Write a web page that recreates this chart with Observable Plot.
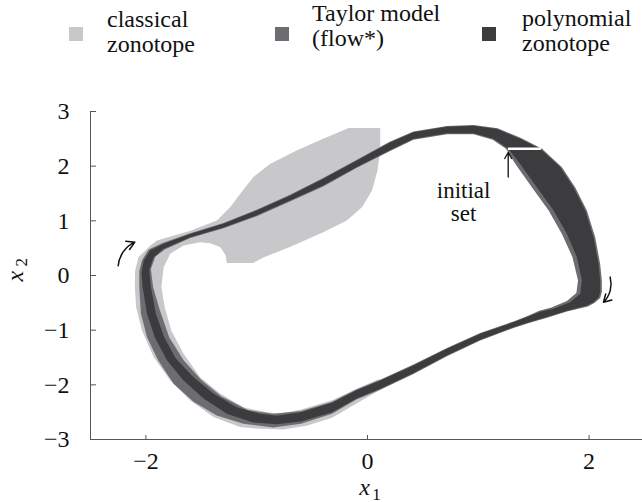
<!DOCTYPE html>
<html><head><meta charset="utf-8">
<script src="https://cdn.jsdelivr.net/npm/d3@7"></script>
<script src="https://cdn.jsdelivr.net/npm/@observablehq/plot@0.6"></script>
<style>
body{margin:0;background:#fff;}
#wrap{position:relative;width:642px;height:502px;font-family:"Liberation Serif","DejaVu Serif","Times New Roman",serif;color:#111;}
#legend{position:relative;height:75px;width:642px;}
.sw{position:absolute;width:14px;height:14px;top:27px}
.lt{position:absolute;font-size:24px;line-height:24.5px;white-space:nowrap}
</style></head><body>
<div id="wrap"><div id="legend"></div><div id="chart"></div></div>
<script>
const xTicks = [-2, 0, 2];
const yTicks = [-3, -2, -1, 0, 1, 2, 3];
const xDomain = [-2.5, 2.5];
const yDomain = [-3, 3];
const legendLabels = [["classical", "zonotope"], ["Taylor model", "(flow*)"], ["polynomial", "zonotope"]];
const setColors = ["#c8c8ca", "#6d6d71", "#3c3c3e"];

// classical zonotope (outline)
const classicalOutline = [[-0.17,2.70],[0.115,2.70],[0.115,2.29],[0.09,1.92],[0.04,1.55],[-0.05,1.25],[-0.19,1.00],[-0.40,0.79],[-0.70,0.52],[-0.94,0.33],[-1.03,0.23],[-1.27,0.23],[-1.28,0.37],[-1.33,0.52],[-1.42,0.59],[-1.51,0.61],[-1.66,0.55],[-1.78,0.40],[-1.84,0.15],[-1.86,-0.21],[-1.83,-0.58],[-1.77,-1.01],[-1.66,-1.43],[-1.51,-1.86],[-1.33,-2.16],[-1.12,-2.41],[-0.91,-2.50],[-0.79,-2.53],[-0.60,-2.45],[-0.32,-2.28],[-0.10,-2.07],[0.10,-1.90],[0.22,-1.97],[0.10,-2.11],[-0.10,-2.34],[-0.32,-2.60],[-0.55,-2.75],[-0.76,-2.815],[-1.01,-2.80],[-1.15,-2.77],[-1.39,-2.59],[-1.60,-2.285],[-1.78,-1.92],[-1.93,-1.49],[-2.036,-1.005],[-2.088,-0.58],[-2.10,-0.21],[-2.097,0.09],[-2.067,0.335],[-1.96,0.55],[-1.90,0.64],[-1.60,0.82],[-1.36,1.005],[-1.24,1.25],[-1.15,1.49],[-1.03,1.80],[-0.88,2.04],[-0.64,2.285],[-0.40,2.50]];

// Taylor model (flow*) outer / inner edges
const taylorOuter = [[1.575,2.32],[1.755,1.98],[1.875,1.61],[1.98,1.19],[2.055,0.70],[2.10,0.21],[2.115,-0.09],[2.115,-0.30],[2.10,-0.41],[2.05,-0.50],[1.99,-0.565],[1.80,-0.66],[1.62,-0.775],[1.45,-0.875],[1.318,-0.96],[1.017,-1.19],[0.717,-1.475],[0.415,-1.80],[0.115,-2.09],[-0.10,-2.27],[-0.32,-2.53],[-0.60,-2.71],[-0.85,-2.78],[-1.12,-2.71],[-1.36,-2.56],[-1.57,-2.31],[-1.75,-1.98],[-1.89,-1.55],[-1.99,-1.13],[-2.045,-0.70],[-2.06,-0.21],[-2.06,0.08],[-2.035,0.28],[-1.975,0.475],[-1.85,0.595],[-1.60,0.775],[-1.30,0.96],[-1.00,1.205],[-0.70,1.475],[-0.40,1.785],[-0.10,2.115],[0.20,2.445],[0.415,2.635],[0.717,2.735],[0.957,2.755],[1.175,2.695],[1.39,2.51]];
const taylorInner = [[1.25,2.32],[1.335,2.04],[1.485,1.61],[1.635,1.19],[1.755,0.76],[1.85,0.335],[1.90,-0.09],[1.885,-0.32],[1.80,-0.465],[1.66,-0.585],[1.55,-0.645],[1.45,-0.735],[1.318,-0.84],[1.017,-1.05],[0.717,-1.325],[0.415,-1.63],[0.115,-1.905],[-0.10,-2.085],[-0.32,-2.31],[-0.60,-2.48],[-0.85,-2.53],[-1.08,-2.46],[-1.32,-2.21],[-1.50,-1.91],[-1.66,-1.55],[-1.79,-1.13],[-1.88,-0.60],[-1.935,-0.21],[-1.955,0.12],[-1.915,0.345],[-1.83,0.475],[-1.60,0.685],[-1.30,0.865],[-1.00,1.085],[-0.70,1.355],[-0.40,1.63],[-0.10,1.965],[0.20,2.275],[0.415,2.485],[0.717,2.585],[0.957,2.585],[1.13,2.485]];

// polynomial zonotope outer / inner edges
const polyOuter = [[1.56,2.32],[1.74,1.98],[1.86,1.61],[1.965,1.19],[2.04,0.70],[2.085,0.21],[2.10,-0.09],[2.10,-0.30],[2.087,-0.40],[2.04,-0.49],[1.98,-0.55],[1.80,-0.645],[1.62,-0.76],[1.45,-0.86],[1.318,-0.945],[1.017,-1.175],[0.717,-1.46],[0.415,-1.785],[0.115,-2.07],[-0.10,-2.25],[-0.32,-2.50],[-0.60,-2.67],[-0.82,-2.72],[-1.03,-2.69],[-1.27,-2.53],[-1.48,-2.25],[-1.66,-1.92],[-1.81,-1.55],[-1.92,-1.13],[-1.99,-0.70],[-2.03,-0.21],[-2.04,0.05],[-2.02,0.27],[-1.96,0.46],[-1.84,0.58],[-1.60,0.76],[-1.30,0.945],[-1.00,1.19],[-0.70,1.46],[-0.40,1.77],[-0.10,2.10],[0.20,2.43],[0.415,2.62],[0.717,2.72],[0.957,2.74],[1.168,2.68],[1.378,2.50]];
const polyInner = [[1.27,2.32],[1.378,2.04],[1.53,1.61],[1.68,1.19],[1.80,0.76],[1.89,0.335],[1.935,-0.09],[1.92,-0.335],[1.83,-0.49],[1.68,-0.61],[1.56,-0.665],[1.45,-0.75],[1.318,-0.854],[1.017,-1.065],[0.717,-1.34],[0.415,-1.645],[0.115,-1.92],[-0.10,-2.10],[-0.32,-2.33],[-0.60,-2.50],[-0.82,-2.565],[-0.97,-2.53],[-1.18,-2.41],[-1.39,-2.16],[-1.57,-1.86],[-1.73,-1.52],[-1.835,-1.13],[-1.91,-0.70],[-1.955,-0.21],[-1.97,0.10],[-1.93,0.335],[-1.84,0.49],[-1.60,0.70],[-1.30,0.88],[-1.00,1.10],[-0.70,1.37],[-0.40,1.645],[-0.10,1.98],[0.20,2.29],[0.415,2.50],[0.717,2.60],[0.957,2.60],[1.137,2.50]];

const initialSet = [{x1: 1.267, x2: 1.565, y: 2.32}];
const arrowLeft = [{x1: -2.25, y1: 0.18, x2: -2.10, y2: 0.61}];
const arrowRight = [{x1: 2.19, y1: -0.03, x2: 2.13, y2: -0.49}];
const arrowInit = [{x1: 1.27, y1: 1.80, x2: 1.27, y2: 2.25}];
const annotation = [{x: 0.867, y: 1.005, text: "initial\nset"}];

// legend (HTML, above the SVG)
const legend = document.getElementById("legend");
const swLeft = [69, 275, 482], txLeft = [107, 312, 522], txTop = [7, 1, 6];
legendLabels.forEach((lines, i) => {
  const s = document.createElement("div");
  s.className = "sw"; s.style.left = swLeft[i] + "px"; s.style.background = setColors[i];
  legend.appendChild(s);
  const t = document.createElement("div");
  t.className = "lt"; t.style.left = txLeft[i] + "px"; t.style.top = txTop[i] + "px";
  t.innerHTML = lines.join("<br>");
  legend.appendChild(t);
});

function ring(outer, inner) {
  const rev = [inner[0], ...inner.slice(1).reverse(), inner[0]];
  return [...outer, outer[0], ...rev];
}
const polyFill = (pts, color) => Plot.line(pts, {x: d => d[0], y: d => d[1], fill: color, stroke: "none", curve: "linear"});
const fmt = d => d < 0 ? "\u2212" + Math.abs(d) : String(d);
const serif = "'Liberation Serif', 'DejaVu Serif', 'Times New Roman', serif";

const chart = Plot.plot({
  width: 642, height: 427,
  marginLeft: 90, marginRight: -2, marginTop: 36, marginBottom: 63,
  x: {domain: xDomain},
  y: {domain: yDomain},
  style: {fontFamily: serif, fontSize: "24px", color: "#111", background: "white"},
  marks: [
    polyFill(classicalOutline, setColors[0]),
    polyFill(ring(taylorOuter, taylorInner), setColors[1]),
    polyFill(ring(polyOuter, polyInner), setColors[2]),
    Plot.link(initialSet, {x1: "x1", x2: "x2", y1: "y", y2: "y", stroke: "white", strokeWidth: 2.5}),
    Plot.arrow(arrowLeft, {x1: "x1", y1: "y1", x2: "x2", y2: "y2", bend: 30, stroke: "#111", strokeWidth: 1.5, headLength: 9}),
    Plot.arrow(arrowRight, {x1: "x1", y1: "y1", x2: "x2", y2: "y2", bend: 30, stroke: "#111", strokeWidth: 1.5, headLength: 9}),
    Plot.arrow(arrowInit, {x1: "x1", y1: "y1", x2: "x2", y2: "y2", stroke: "#111", strokeWidth: 1.3, headLength: 8}),
    Plot.text(annotation, {x: "x", y: "y", text: "text", lineAnchor: "bottom", lineHeight: 1.0, fontSize: 23, fill: "#111"}),
    Plot.ruleX([xDomain[0]], {stroke: "#555", strokeWidth: 1}),
    Plot.ruleY([yDomain[0]], {stroke: "#555", strokeWidth: 1}),
    Plot.axisX(xTicks, {anchor: "bottom", tickSize: -4, tickPadding: 16, stroke: "#555", label: null, tickFormat: fmt}),
    Plot.axisY(yTicks, {anchor: "left", tickSize: -6, tickPadding: 27, stroke: "#555", label: null, tickFormat: fmt}),
    Plot.text(["x"], {frameAnchor: "bottom", lineAnchor: "bottom", dx: -3, dy: 55, fontStyle: "italic", fontSize: 24}),
    Plot.text(["1"], {frameAnchor: "bottom", lineAnchor: "bottom", dx: 9, dy: 60, fontSize: 17}),
    Plot.text(["x"], {frameAnchor: "left", lineAnchor: "bottom", rotate: -90, dx: -68, dy: 6, fontStyle: "italic", fontSize: 24}),
    Plot.text(["2"], {frameAnchor: "left", lineAnchor: "bottom", rotate: -90, dx: -64, dy: -9, fontSize: 17})
  ]
});
document.getElementById("chart").appendChild(chart);
</script>
</body></html>
